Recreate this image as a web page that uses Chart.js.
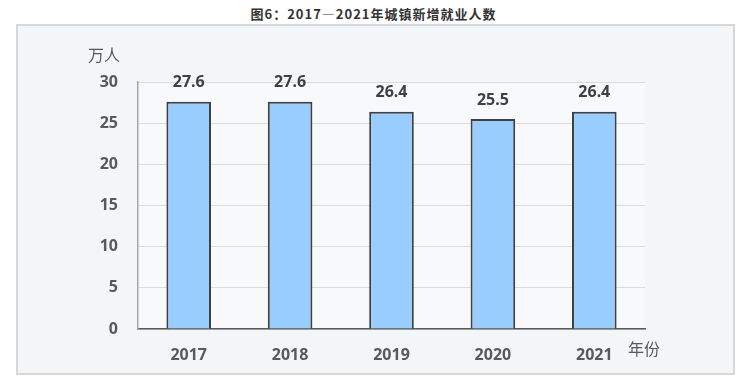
<!DOCTYPE html>
<html lang="zh">
  <head>
    <meta charset="UTF-8">
    <title>城镇新增就业人数</title>
    <script src="https://cdn.jsdelivr.net/npm/chart.js"></script>
    <style>
      html, body { margin: 0; padding: 0; background: #ffffff; }
      .titulo {
        position: absolute; left: 0; top: 4px; width: 747px; text-align: center;
        font: bold 13px "Noto Sans CJK SC", sans-serif; color: #333333; letter-spacing: 1px;
      }
      .panel {
        position: absolute; left: 16px; top: 24px; width: 715px; height: 347px;
        background: #f2f6f9; border: 2px solid #d8d8d8;
      }
      #myChart { position: absolute; left: 0; top: 0; }
    </style>
  </head>
  <body>
    <div class="titulo">图6：2017—2021年城镇新增就业人数</div>
    <div class="panel"></div>
    <canvas id="myChart" width="747" height="381"></canvas>
    <script>
      // datos
      const years = ['2017', '2018', '2019', '2020', '2021'];
      const empleo = [27.6, 27.6, 26.4, 25.5, 26.4];
      const yTicks = [0, 5, 10, 15, 20, 25, 30];

      const numFont = { family: '"Noto Sans", sans-serif', size: 16, weight: 'bold' };

      // fondo del area del grafico, etiquetas y unidades
      const extras = {
        id: 'extras',
        beforeDraw(chart) {
          const a = chart.chartArea, c = chart.ctx;
          c.save();
          c.fillStyle = '#f7f9fb';
          c.fillRect(a.left, a.top, a.right - a.left, a.bottom - a.top);
          c.restore();
        },
        afterDatasetsDraw(chart) {
          const c = chart.ctx;
          const a = chart.chartArea;
          c.save();
          c.fillStyle = '#404040';
          c.font = 'bold 16px "Noto Sans", sans-serif';
          c.textAlign = 'center';
          c.textBaseline = 'middle';
          chart.getDatasetMeta(0).data.forEach((bar, i) => {
            c.fillText(empleo[i].toFixed(1), bar.x, bar.y - 19);
          });
          c.fillStyle = '#595959';
          c.font = '16px "Noto Sans CJK SC", sans-serif';
          c.fillText('万人', a.left - 34, a.top - 27);
          c.textAlign = 'left';
          c.fillText('年份', a.right - 17, a.bottom + 20);
          c.restore();
        }
      };

      new Chart(document.getElementById('myChart'), {
        type: 'bar',
        data: {
          labels: years,
          datasets: [{
            data: empleo,
            backgroundColor: '#99ccff',
            borderColor: '#404040',
            borderWidth: 2,
            barPercentage: 0.44,
            categoryPercentage: 1
          }]
        },
        options: {
          responsive: false,
          animation: false,
          layout: { padding: { top: 82, right: 102, bottom: 0, left: 0 } },
          plugins: { legend: { display: false }, tooltip: { enabled: false } },
          scales: {
            x: {
              afterFit: s => { s.height = 52; },
              grid: { display: false },
              border: { color: '#595959', width: 1.5 },
              ticks: { color: '#595959', font: numFont, padding: 9 }
            },
            y: {
              min: 0,
              max: 30,
              afterFit: s => { s.width = 138; },
              afterBuildTicks: s => { s.ticks = yTicks.map(v => ({ value: v })); },
              grid: { color: '#dcdcdc', drawTicks: false },
              border: { color: '#a6a6a6', width: 1.5 },
              ticks: { color: '#595959', font: numFont, padding: 20 }
            }
          }
        },
        plugins: [extras]
      });
    </script>
  </body>
</html>
